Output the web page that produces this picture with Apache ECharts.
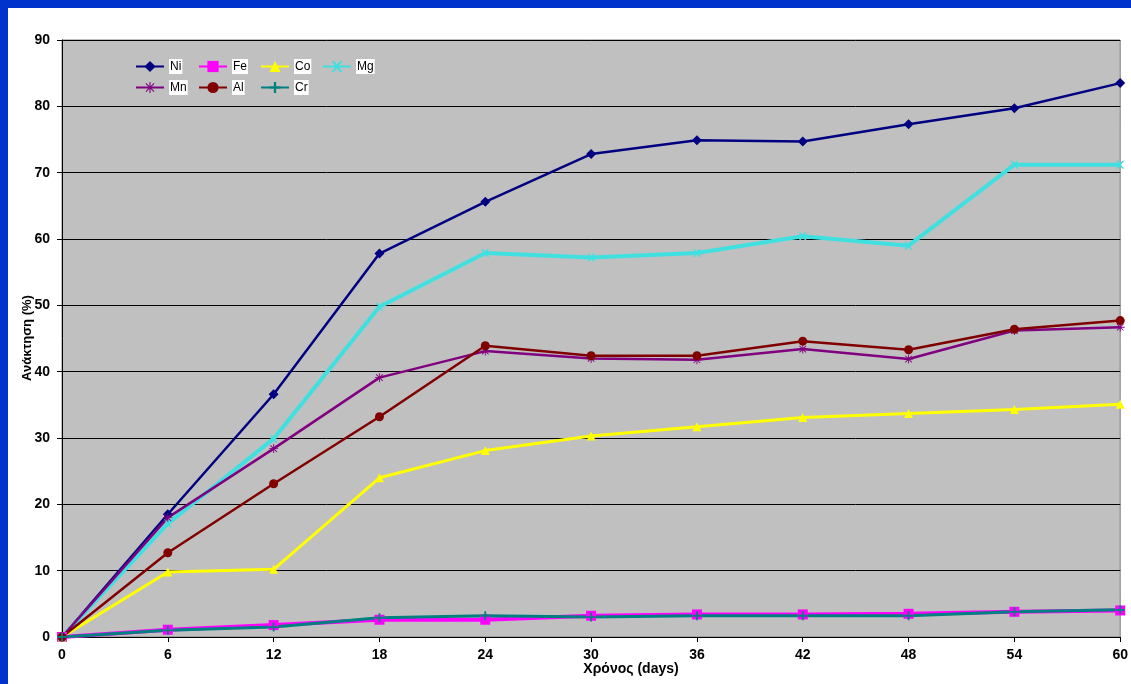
<!DOCTYPE html>
<html>
<head>
<meta charset="utf-8">
<script src="https://cdn.jsdelivr.net/npm/echarts@6/dist/echarts.min.js"></script>
<style>
html,body{margin:0;padding:0;width:1131px;height:684px;background:#0033CC;overflow:hidden;}
#chart{position:absolute;left:8px;top:8px;width:1123px;height:676px;background:#fff;}
</style>
</head>
<body>
<div id="chart"></div>
<script>
const days = [0, 6, 12, 18, 24, 30, 36, 42, 48, 54, 60];
const Ni = [0, 18.5, 36.6, 57.8, 65.6, 72.8, 74.9, 74.7, 77.3, 79.7, 83.5];
const Fe = [0, 1.1, 1.8, 2.6, 2.6, 3.2, 3.4, 3.4, 3.5, 3.8, 4.0];
const Co = [0, 9.8, 10.2, 24.0, 28.1, 30.3, 31.7, 33.1, 33.7, 34.3, 35.1];
const Mg = [0, 17.1, 29.9, 49.8, 57.9, 57.2, 57.9, 60.4, 59.0, 71.2, 71.2];
const Mn = [0, 18.0, 28.4, 39.1, 43.1, 42.0, 41.8, 43.4, 41.9, 46.2, 46.7];
const Al = [0, 12.7, 23.1, 33.2, 43.9, 42.4, 42.4, 44.6, 43.3, 46.4, 47.7];
const Cr = [0, 1.0, 1.5, 2.9, 3.2, 3.0, 3.2, 3.2, 3.2, 3.8, 4.1];
const yTitle = 'Ανάκτηση (%)';
const xTitle = 'Χρόνος (days)';

const FONT = '"Liberation Sans", Arial, sans-serif';
const NARROW = '"Liberation Sans Narrow", "Liberation Sans", Arial, sans-serif';

const X_SYM = 'path://M0,0 L2,0 L5,3 L8,0 L10,0 L6,5 L10,10 L8,10 L5,7 L2,10 L0,10 L4,5 Z';
const PLUS_SYM = 'path://M4,0 H6 V4 H10 V6 H6 V10 H4 V6 H0 V4 H4 Z';
const STAR_SYM = 'path://M4.5,0h1v4.5h4.5v1h-4.5v4.5h-1v-4.5h-4.5v-1h4.5z M1,1.7 L1.7,1 L9,8.3 L8.3,9z M8.3,1 L9,1.7 L1.7,9 L1,8.3z';

function pairs(arr){ return days.map((d,i)=>[d, arr[i]]); }

function mk(name, arr, color, symbol, size, width){
  return {
    name: name, type: 'line', data: pairs(arr),
    symbol: symbol, symbolSize: size, showSymbol: true,
    lineStyle: {color: color, width: width},
    itemStyle: {color: color, borderWidth: 0},
    emphasis: {disabled: true},
    animation: false
  };
}

const series = [
  mk('Ni', Ni, '#000080', 'diamond', 10, 2.5),
  mk('Fe', Fe, '#FF00FF', 'rect', 10, 4),
  mk('Co', Co, '#FFFF00', 'triangle', 9, 3),
  mk('Mg', Mg, '#40E0E0', X_SYM, 8, 4),
  mk('Mn', Mn, '#800080', STAR_SYM, 9, 2.5),
  mk('Al', Al, '#800000', 'circle', 9, 2.5),
  mk('Cr', Cr, '#008080', PLUS_SYM, 9, 3)
];

function leg(left, names){
  return {
    data: names, left: left, top: 46, orient: 'vertical',
    itemWidth: 28, itemHeight: 14, itemGap: 6,
    textStyle: {fontFamily: NARROW, fontSize: 12, color: '#000', backgroundColor: '#fff', padding: [2, 1, 1, 1]},
    selectedMode: false
  };
}

const chart = echarts.init(document.getElementById('chart'), null, {renderer: 'canvas'});
chart.setOption({
  animation: false,
  backgroundColor: '#ffffff',
  grid: {left: 54, right: 1, top: 32, bottom: 47, show: true, backgroundColor: '#C0C0C0', borderColor: '#808080', borderWidth: 1},
  legend: [leg(122, ['Ni', 'Mn']), leg(185, ['Fe', 'Al']), leg(247, ['Co', 'Cr']), leg(309, ['Mg'])],
  xAxis: {
    type: 'value', min: 0, max: 60, interval: 6,
    axisLine: {show: true, lineStyle: {color: '#000', width: 1}},
    axisTick: {show: true, length: 5, inside: false, lineStyle: {color: '#000'}},
    axisLabel: {fontFamily: FONT, fontWeight: 'bold', fontSize: 14, color: '#000', margin: 11},
    splitLine: {show: false}
  },
  yAxis: {
    type: 'value', min: 0, max: 90, interval: 10,
    axisLine: {show: true, lineStyle: {color: '#000', width: 1}},
    axisTick: {show: true, length: 5, inside: false, lineStyle: {color: '#000'}},
    axisLabel: {fontFamily: FONT, fontWeight: 'bold', fontSize: 14, color: '#000', margin: 12},
    splitLine: {show: true, lineStyle: {color: '#000', width: 1}}
  },
  graphic: [
    {type: 'text', x: 19, y: 330, rotation: Math.PI / 2,
     style: {text: yTitle, fontFamily: FONT, fontWeight: 'bold', fontSize: 13, fill: '#000', align: 'center', verticalAlign: 'middle'}},
    {type: 'text', x: 623, y: 661,
     style: {text: xTitle, fontFamily: FONT, fontWeight: 'bold', fontSize: 14, fill: '#000', align: 'center', verticalAlign: 'middle'}}
  ],
  series: series
});
</script>
</body>
</html>
